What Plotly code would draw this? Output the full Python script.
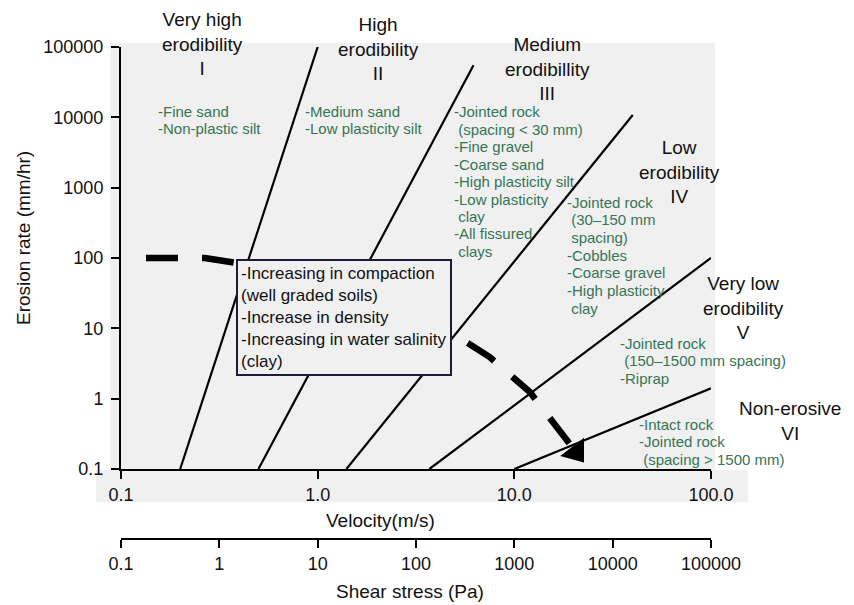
import plotly.graph_objects as go

# ---------------- data ----------------
velocity_ticks = [0.1, 1, 10, 100]
velocity_tick_text = ["0.1", "1.0", "10.0", "100.0"]
erosion_ticks = [0.1, 1, 10, 100, 1000, 10000, 100000]
erosion_tick_text = ["0.1", "1", "10", "100", "1000", "10000", "100000"]
shear_ticks = [0.1, 1, 10, 100, 1000, 10000, 100000]
shear_tick_text = ["0.1", "1", "10", "100", "1000", "10000", "100000"]

# category boundary lines (velocity m/s, erosion rate mm/hr)
boundary_velocity = [[0.2, 1.0], [0.5, 6.2], [1.4, 40], [3.7, 100], [10, 100]]
boundary_erosion = [[0.1, 100000], [0.1, 55000], [0.1, 10800], [0.1, 100], [0.1, 1.4]]

# dashed trend arrow
trend_velocity = [0.134, 0.267, 0.389, 1.46, 5.0, 7.5, 12.0, 20.6]
trend_erosion = [100, 100, 85, 25, 8.0, 3.9, 1.24, 0.174]

category_titles = [
    "Very high<br>erodibility<br>I",
    "High<br>erodibility<br>II",
    "Medium<br>erodibillity<br>III",
    "Low<br>erodibility<br>IV",
    "Very low<br>erodibility<br>V",
    "Non-erosive<br>VI",
]
category_materials = [
    ["-Fine sand", "-Non-plastic silt"],
    ["-Medium sand", "-Low plasticity silt"],
    ["-Jointed rock", "\u00a0(spacing < 30 mm)", "-Fine gravel", "-Coarse sand",
     "-High plasticity silt", "-Low plasticity", "\u00a0clay", "-All fissured", "\u00a0clays"],
    ["-Jointed rock", "\u00a0(30–150 mm", "\u00a0spacing)", "-Cobbles", "-Coarse gravel",
     "-High plasticity", "\u00a0clay"],
    ["-Jointed rock", "\u00a0(150–1500 mm spacing)", "-Riprap"],
    ["-Intact rock", "-Jointed rock", "\u00a0(spacing > 1500 mm)"],
]
trend_note = ("-Increasing in compaction<br>(well graded soils)<br>-Increase in density"
              "<br>-Increasing in water salinity<br>(clay)")

# ---------------- layout geometry (reference-page pixels) ----------------
OFF = 8                                   # page body margin
W, H = 854 - OFF, 605 - OFF
PL, PR, PT, PB = 121, 711, 47, 539        # paper area in page pixels
PLOT_BOTTOM = 469                         # bottom of main plot area
FONT = "Liberation Sans, Arial, Helvetica, sans-serif"
GREEN = "#367556"
BG = "#f0f0f0"


def px(x):
    return (x - PL) / (PR - PL)


def py(y):
    return (PB - y) / (PB - PT)


fig = go.Figure()

for vx, ey in zip(boundary_velocity, boundary_erosion):
    fig.add_trace(go.Scatter(x=vx, y=ey, mode="lines",
                             line=dict(color="black", width=2.2),
                             showlegend=False, hoverinfo="skip"))

fig.add_trace(go.Scatter(x=trend_velocity, y=trend_erosion, mode="lines",
                         line=dict(color="black", width=6.5, dash="32px,24px"),
                         showlegend=False, hoverinfo="skip"))
fig.add_trace(go.Scatter(x=trend_velocity[-2:], y=trend_erosion[-2:], mode="markers",
                         marker=dict(symbol="triangle-up", size=[0, 26], color="black",
                                     opacity=1, line=dict(width=0), angleref="previous"),
                         showlegend=False, hoverinfo="skip"))

# helper trace for shear-stress axis
fig.add_trace(go.Scatter(x=[shear_ticks[0], shear_ticks[-1]], y=[1, 1], xaxis="x2",
                         mode="markers", marker=dict(opacity=0),
                         showlegend=False, hoverinfo="skip"))

ann = []
title_pos = [(202, 44), (378, 49), (547, 69), (679, 172), (743, 308), (790, 421)]
for t, (cx, cy) in zip(category_titles, title_pos):
    ann.append(dict(text=t, x=px(cx), y=py(cy), xref="paper", yref="paper",
                    xanchor="center", yanchor="middle", align="center", showarrow=False,
                    font=dict(size=19, color="#111111", family=FONT)))

mat_pos = [(156, 111, 18), (303, 111, 18), (452, 112, 17.4),
           (565, 202, 17.7), (618, 343, 17.5), (637, 424, 17.5)]
for lines, (lx, fy, sp) in zip(category_materials, mat_pos):
    for i, s in enumerate(lines):
        ann.append(dict(text=s, x=px(lx), y=py(fy + i * sp), xref="paper", yref="paper",
                        xanchor="left", yanchor="middle", showarrow=False,
                        font=dict(size=15, color=GREEN, family=FONT)))

ann.append(dict(text=trend_note, x=px(343.5), y=py(317.5), xref="paper", yref="paper",
                xanchor="center", yanchor="middle", align="left", showarrow=False,
                bgcolor=BG, bordercolor="#1c1c3a", borderwidth=2, borderpad=3,
                font=dict(size=17, color="#111111", family=FONT)))

# axis titles
ann.append(dict(text="Velocity(m/s)", x=px(380), y=py(520), xref="paper", yref="paper",
                xanchor="center", yanchor="middle", showarrow=False,
                font=dict(size=19, color="#111111", family=FONT)))
ann.append(dict(text="Shear stress (Pa)", x=px(410), y=py(591), xref="paper", yref="paper",
                xanchor="center", yanchor="middle", showarrow=False,
                font=dict(size=19, color="#111111", family=FONT)))
ann.append(dict(text="Erosion rate (mm/hr)", x=px(23), y=py(238), xref="paper", yref="paper",
                xanchor="center", yanchor="middle", showarrow=False, textangle=-90,
                font=dict(size=19, color="#111111", family=FONT)))

shapes = [
    dict(type="rect", xref="paper", yref="paper", x0=px(110), x1=px(715),
         y0=py(502), y1=py(43), fillcolor=BG, line=dict(width=0), layer="below"),
    dict(type="rect", xref="paper", yref="paper", x0=px(96), x1=px(748),
         y0=py(502), y1=py(470), fillcolor=BG, line=dict(width=0), layer="below"),
]

axis_common = dict(showgrid=False, zeroline=False, showline=True, linecolor="black",
                   linewidth=2, ticks="outside", ticklen=8, tickwidth=2, tickcolor="black",
                   automargin=False,
                   tickfont=dict(size=18, color="#111111", family=FONT))

fig.update_layout(
    width=W, height=H,
    margin=dict(l=PL - OFF, r=854 - PR, t=PT - OFF, b=605 - PB, pad=0),
    paper_bgcolor="white", plot_bgcolor="rgba(0,0,0,0)",
    font=dict(family=FONT, color="#111111"),
    xaxis=dict(type="log", range=[-1, 2], tickvals=velocity_ticks,
               ticktext=velocity_tick_text, anchor="y", domain=[0, 1], **axis_common),
    yaxis=dict(type="log", range=[-1, 5], tickvals=erosion_ticks,
               ticktext=erosion_tick_text, anchor="x",
               domain=[(PB - PLOT_BOTTOM) / (PB - PT), 1], ticklabelstandoff=4,
               **axis_common),
    xaxis2=dict(type="log", range=[-1, 5], tickvals=shear_ticks, ticktext=shear_tick_text,
                overlaying="x", anchor="free", position=0, side="bottom",
                **axis_common),
    annotations=ann,
    shapes=shapes,
    showlegend=False,
)

fig.write_html("out.html")
